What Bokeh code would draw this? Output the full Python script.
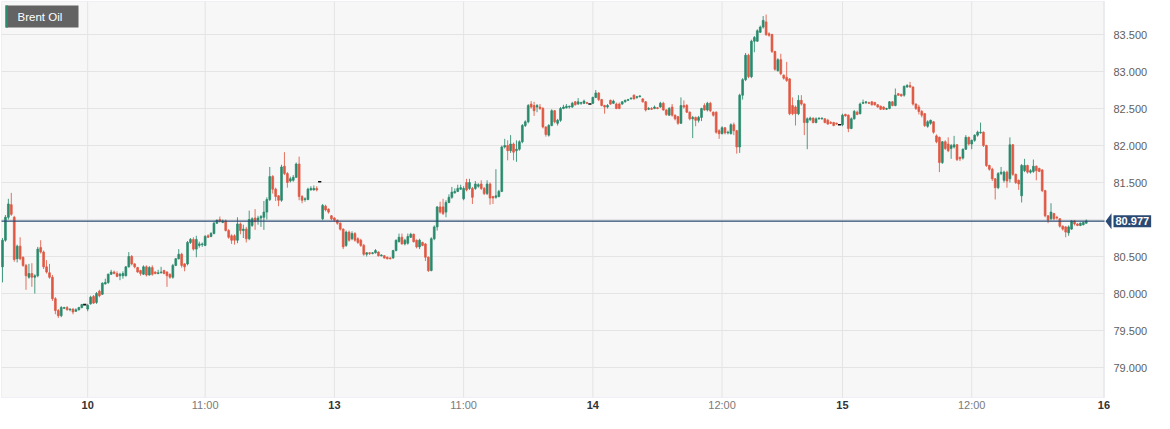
from bokeh.plotting import figure
from bokeh.models import ColumnDataSource, Label, BoxAnnotation, PolyAnnotation
from bokeh.core.properties import value
from bokeh.embed import file_html
from bokeh.resources import INLINE

# ---------------- data (15-minute candles, Brent Oil) ----------------
instrument = "Brent Oil"
last_price = 80.977

open_ = [
    80.36, 80.72, 81.03, 81.20, 81.03, 80.47, 80.64, 80.49, 80.38, 80.22,
    80.27, 80.22, 80.24, 80.62, 80.56, 80.36, 80.28, 80.22, 79.93, 79.77,
    79.70, 79.80, 79.81, 79.78, 79.79, 79.76, 79.78, 79.81, 79.85,
    79.79, 79.86, 79.96, 79.88, 80.03, 79.99, 80.13, 80.15, 80.26, 80.29,
    80.27, 80.24, 80.24, 80.24, 80.36, 80.50, 80.40, 80.35, 80.31, 80.26,
    80.36, 80.25, 80.35, 80.29, 80.27, 80.28, 80.31, 80.29, 80.26, 80.22,
    80.38, 80.47, 80.53, 80.40, 80.40, 80.69, 80.73, 80.60, 80.65, 80.66,
    80.65, 80.78, 80.77, 80.81, 80.95, 81.00, 80.96, 80.98, 80.85, 80.78,
    80.78, 80.72, 80.94, 80.85, 80.87, 80.74, 80.92, 81.02, 80.99, 81.02,
    81.03, 81.10, 81.27, 81.58, 81.41, 81.32, 81.26, 81.72, 81.62, 81.52,
    81.53, 81.57, 81.75, 81.31, 81.27, 81.27, 81.40, 81.40, 81.42, 81.51,
    81.01, 81.18, 81.14, 81.05, 81.02, 80.99, 80.95, 80.87, 80.65, 80.83,
    80.74, 80.81, 80.74, 80.72, 80.65, 80.53, 80.55, 80.54, 80.55, 80.56,
    80.51, 80.51, 80.49, 80.48, 80.48, 80.58, 80.70, 80.76, 80.67, 80.68,
    80.76, 80.80, 80.72, 80.63, 80.69, 80.67, 80.49, 80.31, 80.74, 80.90,
    81.17, 81.17, 81.10, 81.23, 81.30, 81.36, 81.38, 81.41, 81.28, 81.50,
    81.42, 81.42, 81.42, 81.45, 81.48, 81.42, 81.35, 81.48, 81.31, 81.30,
    81.31, 81.38, 81.98, 82.00, 81.93, 82.02, 81.93, 81.95, 82.05, 82.27,
    82.32, 82.56, 82.54, 82.52, 82.52, 82.50, 82.25, 82.14, 82.27, 82.47,
    82.30, 82.34, 82.50, 82.51, 82.52, 82.52, 82.59, 82.56, 82.57, 82.57,
    82.58, 82.56,
    82.57, 82.65, 82.71, 82.62, 82.54, 82.52, 82.61, 82.57, 82.56, 82.56,
    82.56, 82.59, 82.61, 82.63, 82.68, 82.65, 82.66, 82.63, 82.59, 82.49,
    82.50, 82.50, 82.51, 82.52, 82.57, 82.48, 82.41, 82.52, 82.41, 82.39,
    82.30, 82.54, 82.54, 82.45, 82.36, 82.38, 82.34, 82.38, 82.54, 82.48,
    82.57, 82.45, 82.45, 82.20, 82.16, 82.24, 82.17, 82.16, 82.28, 82.20,
    81.98, 82.68, 82.89, 83.22, 82.93, 83.41, 83.41, 83.53, 83.60, 83.67,
    83.51, 83.50, 83.27, 83.01, 83.16, 82.95, 82.92, 82.90, 82.54, 82.52,
    82.43, 82.61, 82.56, 82.31, 82.35, 82.37, 82.31, 82.36, 82.36, 82.36,
    82.34, 82.31, 82.31, 82.30, 82.28,
    82.28, 82.42, 82.41, 82.23, 82.36, 82.45, 82.43, 82.57, 82.58, 82.58,
    82.59, 82.58, 82.55, 82.53, 82.52, 82.49, 82.50, 82.59, 82.54, 82.70,
    82.69, 82.68, 82.79, 82.81, 82.79, 82.56, 82.52, 82.46, 82.43, 82.26,
    82.30, 82.32, 82.13, 82.11, 81.77, 82.05, 82.02, 81.96, 81.98, 82.01,
    81.84, 81.83, 81.95, 82.11, 82.02, 82.07, 82.14, 82.17, 82.18, 82.00,
    81.73, 81.68, 81.55, 81.43, 81.62, 81.53, 81.64, 81.55, 82.01, 81.61,
    81.53, 81.32, 81.66, 81.73, 81.64, 81.65, 81.72, 81.69, 81.67, 81.39,
    81.05, 81.01, 81.08, 81.03, 81.01, 80.91, 80.90, 80.82, 80.87, 80.98,
    80.94, 80.92, 80.93, 80.95,
]

high = [
    80.75, 81.06, 81.28, 81.36, 81.05, 80.66, 80.76, 80.50, 80.40, 80.40,
    80.41, 80.26, 80.63, 80.72, 80.58, 80.45, 80.40, 80.25, 79.95, 79.79,
    79.83, 79.82, 79.83, 79.80, 79.80, 79.80, 79.82, 79.86, 79.85,
    79.86, 79.97, 79.98, 80.02, 80.05, 80.15, 80.20, 80.27, 80.32, 80.31,
    80.30, 80.28, 80.30, 80.37, 80.56, 80.52, 80.41, 80.36, 80.32, 80.38,
    80.38, 80.37, 80.38, 80.30, 80.32, 80.36, 80.32, 80.30, 80.27, 80.40,
    80.48, 80.60, 80.55, 80.41, 80.71, 80.75, 80.76, 80.78, 80.70, 80.69,
    80.79, 80.80, 80.83, 80.97, 81.00, 81.04, 81.00, 81.00, 80.87, 80.80,
    80.80, 81.03, 80.96, 80.93, 80.90, 81.12, 81.03, 81.14, 81.05, 81.06,
    81.25, 81.30, 81.71, 81.60, 81.43, 81.33, 81.74, 81.91, 81.64, 81.58,
    81.60, 81.77, 81.85, 81.33, 81.30, 81.43, 81.45, 81.46, 81.45, 81.51,
    81.21, 81.20, 81.15, 81.06, 81.03, 81.00, 80.96, 80.88, 80.85, 80.85,
    80.84, 80.83, 80.76, 80.74, 80.67, 80.56, 80.56, 80.56, 80.60, 80.57,
    80.53, 80.52, 80.50, 80.49, 80.59, 80.73, 80.81, 80.81, 80.74, 80.81,
    80.82, 80.81, 80.73, 80.74, 80.70, 80.68, 80.50, 80.76, 80.92, 81.18,
    81.24, 81.28, 81.26, 81.34, 81.44, 81.42, 81.47, 81.47, 81.45, 81.55,
    81.55, 81.44, 81.52, 81.49, 81.53, 81.44, 81.53, 81.50, 81.32, 81.68,
    81.40, 82.00, 82.09, 82.07, 82.14, 82.04, 82.07, 82.07, 82.29, 82.34,
    82.56, 82.60, 82.59, 82.56, 82.56, 82.52, 82.26, 82.29, 82.49, 82.48,
    82.36, 82.52, 82.55, 82.56, 82.54, 82.59, 82.60, 82.64, 82.59, 82.62,
    82.59, 82.56,
    82.66, 82.75, 82.72, 82.63, 82.55, 82.56, 82.62, 82.62, 82.58, 82.58,
    82.60, 82.62, 82.63, 82.65, 82.69, 82.67, 82.68, 82.64, 82.60, 82.52,
    82.52, 82.54, 82.52, 82.59, 82.59, 82.49, 82.52, 82.56, 82.42, 82.40,
    82.65, 82.61, 82.56, 82.46, 82.40, 82.39, 82.40, 82.51, 82.57, 82.59,
    82.59, 82.46, 82.46, 82.22, 82.26, 82.25, 82.20, 82.30, 82.31, 82.21,
    82.70, 82.91, 83.25, 83.24, 83.43, 83.48, 83.57, 83.62, 83.75, 83.77,
    83.53, 83.51, 83.28, 83.18, 83.24, 82.96, 83.13, 82.91, 82.65, 82.54,
    82.68, 82.68, 82.57, 82.38, 82.39, 82.38, 82.38, 82.38, 82.38, 82.37,
    82.36, 82.33, 82.32, 82.31, 82.28,
    82.43, 82.43, 82.42, 82.38, 82.48, 82.47, 82.58, 82.62, 82.60, 82.59,
    82.60, 82.59, 82.56, 82.54, 82.53, 82.51, 82.60, 82.60, 82.77, 82.71,
    82.70, 82.81, 82.83, 82.86, 82.80, 82.57, 82.55, 82.48, 82.44, 82.34,
    82.35, 82.33, 82.15, 82.12, 82.06, 82.07, 82.11, 82.02, 82.13, 82.02,
    81.85, 81.96, 82.14, 82.12, 82.08, 82.15, 82.20, 82.31, 82.19, 82.01,
    81.74, 81.70, 81.56, 81.64, 81.71, 81.66, 81.66, 82.11, 82.02, 81.62,
    81.54, 81.75, 81.82, 81.74, 81.68, 81.81, 81.73, 81.70, 81.68, 81.40,
    81.06, 81.22, 81.09, 81.05, 81.02, 80.92, 80.91, 80.92, 80.99, 80.99,
    80.95, 80.96, 80.97, 81.00,
]

low = [
    80.15, 80.70, 81.00, 81.05, 80.43, 80.42, 80.45, 80.36, 80.05, 80.20,
    80.09, 80.00, 80.22, 80.54, 80.33, 80.27, 80.20, 79.90, 79.72, 79.67,
    79.68, 79.79, 79.77, 79.76, 79.72, 79.75, 79.77, 79.80, 79.85,
    79.76, 79.85, 79.86, 79.86, 79.95, 79.98, 80.12, 80.13, 80.25, 80.26,
    80.22, 80.18, 80.20, 80.23, 80.35, 80.38, 80.34, 80.28, 80.24, 80.25,
    80.23, 80.24, 80.24, 80.26, 80.26, 80.27, 80.26, 80.09, 80.20, 80.20,
    80.37, 80.46, 80.35, 80.30, 80.38, 80.67, 80.58, 80.49, 80.62, 80.63,
    80.64, 80.75, 80.76, 80.80, 80.94, 80.96, 80.95, 80.84, 80.74, 80.67,
    80.66, 80.68, 80.80, 80.75, 80.69, 80.72, 80.90, 80.86, 80.93, 80.90,
    80.86, 81.00, 81.25, 81.35, 81.25, 81.18, 81.24, 81.60, 81.43, 81.50,
    81.51, 81.56, 81.26, 81.22, 81.24, 81.26, 81.39, 81.39, 81.38, 81.51,
    80.99, 81.11, 81.08, 80.99, 80.97, 80.93, 80.85, 80.60, 80.63, 80.70,
    80.72, 80.70, 80.67, 80.63, 80.51, 80.50, 80.52, 80.53, 80.54, 80.50,
    80.50, 80.47, 80.46, 80.46, 80.47, 80.57, 80.69, 80.66, 80.65, 80.66,
    80.75, 80.69, 80.61, 80.60, 80.64, 80.44, 80.29, 80.30, 80.72, 80.85,
    81.08, 81.06, 81.03, 81.22, 81.28, 81.35, 81.37, 81.40, 81.26, 81.38,
    81.40, 81.21, 81.40, 81.43, 81.40, 81.33, 81.33, 81.20, 81.21, 81.28,
    81.30, 81.37, 81.96, 81.80, 81.90, 81.80, 81.78, 81.93, 82.03, 82.25,
    82.30, 82.50, 82.40, 82.45, 82.48, 82.23, 82.12, 82.12, 82.26, 82.30,
    82.27, 82.32, 82.49, 82.50, 82.50, 82.51, 82.54, 82.55, 82.55, 82.56,
    82.56, 82.56,
    82.56, 82.64, 82.60, 82.53, 82.43, 82.50, 82.55, 82.56, 82.49, 82.49,
    82.55, 82.58, 82.60, 82.62, 82.62, 82.63, 82.65, 82.58, 82.46, 82.48,
    82.48, 82.49, 82.49, 82.51, 82.47, 82.40, 82.40, 82.39, 82.34, 82.28,
    82.29, 82.50, 82.44, 82.34, 82.10, 82.26, 82.31, 82.33, 82.47, 82.46,
    82.45, 82.39, 82.16, 82.09, 82.15, 82.15, 82.15, 82.15, 82.14, 81.89,
    81.90, 82.62, 82.87, 82.91, 82.91, 83.26, 83.40, 83.52, 83.58, 83.48,
    83.47, 83.25, 83.01, 83.00, 82.95, 82.89, 82.86, 82.41, 82.41, 82.27,
    82.41, 82.54, 82.14, 81.95, 82.33, 82.30, 82.30, 82.35, 82.35, 82.30,
    82.28, 82.29, 82.26, 82.28, 82.28,
    82.26, 82.39, 82.18, 82.22, 82.35, 82.41, 82.42, 82.56, 82.56, 82.56,
    82.54, 82.54, 82.51, 82.48, 82.48, 82.48, 82.49, 82.53, 82.53, 82.67,
    82.66, 82.66, 82.78, 82.78, 82.54, 82.48, 82.42, 82.38, 82.25, 82.24,
    82.28, 82.16, 82.03, 81.64, 81.75, 81.94, 81.91, 81.82, 81.96, 81.79,
    81.79, 81.81, 81.94, 82.00, 81.95, 82.05, 82.12, 82.16, 81.98, 81.71,
    81.66, 81.52, 81.27, 81.41, 81.60, 81.50, 81.43, 81.50, 81.59, 81.48,
    81.40, 81.23, 81.64, 81.62, 81.62, 81.63, 81.53, 81.64, 81.37, 81.03,
    80.95, 80.99, 80.99, 81.00, 80.89, 80.85, 80.76, 80.78, 80.86, 80.92,
    80.91, 80.91, 80.92, 80.94,
]

close = [
    80.72, 81.03, 81.21, 81.07, 80.46, 80.64, 80.47, 80.38, 80.24, 80.27,
    80.22, 80.24, 80.60, 80.56, 80.36, 80.29, 80.22, 79.93, 79.77, 79.70,
    79.81, 79.81, 79.78, 79.79, 79.75, 79.78, 79.81, 79.85, 79.85,
    79.84, 79.95, 79.87, 80.00, 79.97, 80.14, 80.15, 80.26, 80.29, 80.27,
    80.23, 80.26, 80.27, 80.36, 80.50, 80.40, 80.36, 80.29, 80.27, 80.36,
    80.25, 80.35, 80.26, 80.27, 80.28, 80.29, 80.27, 80.24, 80.22, 80.38,
    80.47, 80.53, 80.38, 80.36, 80.69, 80.73, 80.60, 80.73, 80.67, 80.67,
    80.77, 80.76, 80.81, 80.95, 80.99, 80.98, 80.98, 80.85, 80.76, 80.72,
    80.72, 80.94, 80.85, 80.87, 80.74, 81.00, 81.01, 80.97, 81.02, 81.04,
    81.10, 81.27, 81.58, 81.41, 81.31, 81.26, 81.71, 81.62, 81.50, 81.55,
    81.57, 81.75, 81.31, 81.26, 81.28, 81.41, 81.42, 81.42, 81.40, 81.51,
    81.19, 81.13, 81.10, 81.01, 80.99, 80.95, 80.87, 80.63, 80.83, 80.72,
    80.81, 80.72, 80.69, 80.65, 80.53, 80.55, 80.54, 80.55, 80.58, 80.51,
    80.52, 80.48, 80.47, 80.47, 80.58, 80.72, 80.76, 80.67, 80.72, 80.77,
    80.80, 80.70, 80.63, 80.72, 80.65, 80.49, 80.31, 80.74, 80.90, 81.17,
    81.10, 81.08, 81.23, 81.30, 81.37, 81.38, 81.42, 81.43, 81.42, 81.40,
    81.50, 81.30, 81.48, 81.47, 81.42, 81.35, 81.48, 81.29, 81.29, 81.32,
    81.38, 81.98, 82.00, 81.93, 82.02, 81.91, 81.95, 82.05, 82.27, 82.32,
    82.54, 82.52, 82.47, 82.54, 82.50, 82.25, 82.15, 82.27, 82.47, 82.32,
    82.34, 82.50, 82.52, 82.53, 82.53, 82.57, 82.55, 82.59, 82.58, 82.60,
    82.57, 82.56,
    82.65, 82.71, 82.62, 82.54, 82.52, 82.54, 82.56, 82.60, 82.50, 82.50,
    82.59, 82.61, 82.62, 82.64, 82.63, 82.66, 82.67, 82.59, 82.48, 82.50,
    82.49, 82.52, 82.50, 82.57, 82.48, 82.42, 82.50, 82.41, 82.36, 82.30,
    82.54, 82.52, 82.45, 82.36, 82.38, 82.34, 82.38, 82.50, 82.48, 82.57,
    82.47, 82.41, 82.18, 82.16, 82.24, 82.17, 82.18, 82.28, 82.20, 81.98,
    82.68, 82.89, 83.22, 82.93, 83.41, 83.46, 83.55, 83.60, 83.69, 83.50,
    83.49, 83.27, 83.03, 83.16, 82.97, 82.91, 82.88, 82.43, 82.43, 82.43,
    82.61, 82.56, 82.31, 82.36, 82.37, 82.31, 82.36, 82.37, 82.37, 82.31,
    82.29, 82.30, 82.27, 82.29, 82.28,
    82.41, 82.40, 82.23, 82.36, 82.46, 82.42, 82.56, 82.58, 82.59, 82.57,
    82.55, 82.55, 82.52, 82.49, 82.49, 82.50, 82.59, 82.54, 82.68, 82.68,
    82.67, 82.80, 82.81, 82.79, 82.56, 82.50, 82.46, 82.41, 82.27, 82.32,
    82.34, 82.18, 82.05, 81.77, 82.05, 81.96, 81.93, 82.00, 82.01, 81.81,
    81.82, 81.95, 82.11, 82.02, 82.07, 82.14, 82.18, 82.18, 82.00, 81.73,
    81.68, 81.55, 81.43, 81.62, 81.64, 81.64, 81.52, 82.01, 81.61, 81.50,
    81.48, 81.73, 81.73, 81.64, 81.66, 81.72, 81.66, 81.65, 81.39, 81.05,
    80.99, 81.10, 81.01, 81.02, 80.91, 80.87, 80.83, 80.90, 80.98, 80.94,
    80.92, 80.95, 80.96, 80.98,
]

# candle index of each time-axis label
tick_index = [29, 69, 113, 157, 201, 245, 286, 330, 375]
tick_text = ["10", "11:00", "13", "11:00", "14", "12:00", "15", "12:00", "16"]
price_ticks = [79.0, 79.5, 80.0, 80.5, 81.0, 81.5, 82.0, 82.5, 83.0, 83.5]

# ---------------- geometry / styling ----------------
FONT = "Liberation Sans"
UP = "#2a8a6d"
DOWN = "#df5944"
FLAT = "#111111"
NAVY = "#2a4a74"
GRID = "#e4e4e4"

W, H = 1154, 413
PX_PER_CANDLE = 2.937          # horizontal pixels per candle slot
PX_PER_UNIT = 74.0             # vertical pixels per 1.0 of price
X0_PX = 2.0                    # pixel column of candle 0
Y_REF_PX, Y_REF = 34.0, 83.5   # pixel row of the 83.5 level


def xval(px):
    return (px - X0_PX) / PX_PER_CANDLE


def yval(py):
    return Y_REF - (py - Y_REF_PX) / PX_PER_UNIT


# plot-area bounds (the grey panel)
PL, PR = xval(1), xval(1104)
PT, PB = yval(1), yval(397)
LABEL_ROW = yval(404.5)

n = min(len(open_), len(high), len(low), len(close))
idx = list(range(n))
moving = [i for i in idx if close[i] != open_[i]]
flats = [i for i in idx if close[i] == open_[i]]

src = ColumnDataSource(dict(
    x=moving,
    top=[max(open_[i], close[i]) for i in moving],
    bottom=[min(open_[i], close[i]) for i in moving],
    high=[high[i] for i in moving],
    low=[low[i] for i in moving],
    color=[UP if close[i] > open_[i] else DOWN for i in moving],
))
doji = ColumnDataSource(dict(x=flats, y=[close[i] for i in flats]))

p = figure(width=W, height=H,
           x_range=(xval(0), xval(W)), y_range=(yval(H), yval(0)),
           output_backend="svg", toolbar_location=None,
           x_axis_location=None, y_axis_location=None,
           min_border=0, min_border_left=0, min_border_right=0,
           min_border_top=0, min_border_bottom=0,
           background_fill_color="#ffffff", border_fill_color="#ffffff",
           outline_line_color=None)
p.grid.visible = False

# grey plot panel with light border
p.add_layout(BoxAnnotation(left=PL, right=PR, bottom=PB, top=PT,
                           fill_color="#f7f7f7", fill_alpha=1,
                           line_color="#d3d8ea", line_width=1, level="underlay"))

# grid lines
p.segment(x0=tick_index, x1=tick_index, y0=[PB] * len(tick_index), y1=[PT] * len(tick_index),
          line_color=GRID, line_width=1)
p.segment(x0=[PL] * len(price_ticks), x1=[PR] * len(price_ticks), y0=price_ticks, y1=price_ticks,
          line_color=GRID, line_width=1)

# candles
p.segment(x0="x", y0="low", x1="x", y1="high", source=src,
          line_color="color", line_width=1, line_alpha=0.85)
p.vbar(x="x", width=0.62, top="top", bottom="bottom", source=src,
       fill_color="color", line_color="color", line_width=0.7)
p.rect(x="x", y="y", width=1.1, height=1.6, height_units="screen",
       source=doji, fill_color=FLAT, line_color=None)

# last price line
p.segment(x0=[PL], x1=[PR], y0=[last_price], y1=[last_price],
          line_color=NAVY, line_width=1.3)

# price axis labels (right side)
p.text(x=[xval(1113)] * len(price_ticks), y=price_ticks,
       text=[f"{v:.3f}" for v in price_ticks],
       text_font=value(FONT), text_font_size=value("11px"),
       text_color="#5e5e5e", text_align="left", text_baseline="middle")

# time axis labels (bottom): bold days, regular times
day_x = [t for t, s in zip(tick_index, tick_text) if ":" not in s]
day_s = [s for s in tick_text if ":" not in s]
tim_x = [t for t, s in zip(tick_index, tick_text) if ":" in s]
tim_s = [s for s in tick_text if ":" in s]
p.text(x=day_x, y=[LABEL_ROW] * len(day_x), text=day_s,
       text_font=value(FONT), text_font_size=value("11px"), text_font_style="bold",
       text_color="#333333", text_align="center", text_baseline="middle")
p.text(x=tim_x, y=[LABEL_ROW] * len(tim_x), text=tim_s,
       text_font=value(FONT), text_font_size=value("11px"),
       text_color="#7a7a7a", text_align="center", text_baseline="middle")

# last price tag
p.add_layout(PolyAnnotation(xs=[1105, 1111, 1111], xs_units="screen",
                            ys=[last_price, last_price + 0.108, last_price - 0.108],
                            ys_units="data", fill_color=NAVY, fill_alpha=1,
                            line_color=None))
p.add_layout(Label(x=1113, x_units="screen", y=last_price,
                   text=f"{last_price:.3f}", text_color="white",
                   text_font=FONT, text_font_size="11px", text_font_style="bold",
                   text_baseline="middle", background_fill_color=NAVY,
                   padding=2))

# instrument badge
p.add_layout(BoxAnnotation(left=5, right=78, left_units="screen", right_units="screen",
                           top=yval(5), bottom=yval(27), fill_color="#636363",
                           fill_alpha=1, line_color=None))
p.add_layout(BoxAnnotation(left=5, right=7.5, left_units="screen", right_units="screen",
                           top=yval(5), bottom=yval(27), fill_color=UP,
                           fill_alpha=1, line_color=None))
p.add_layout(Label(x=17, x_units="screen", y=yval(16), text=instrument,
                   text_color="white", text_font=FONT, text_font_size="11.5px",
                   text_baseline="middle"))

open("out.html", "w").write(file_html(p, INLINE))
